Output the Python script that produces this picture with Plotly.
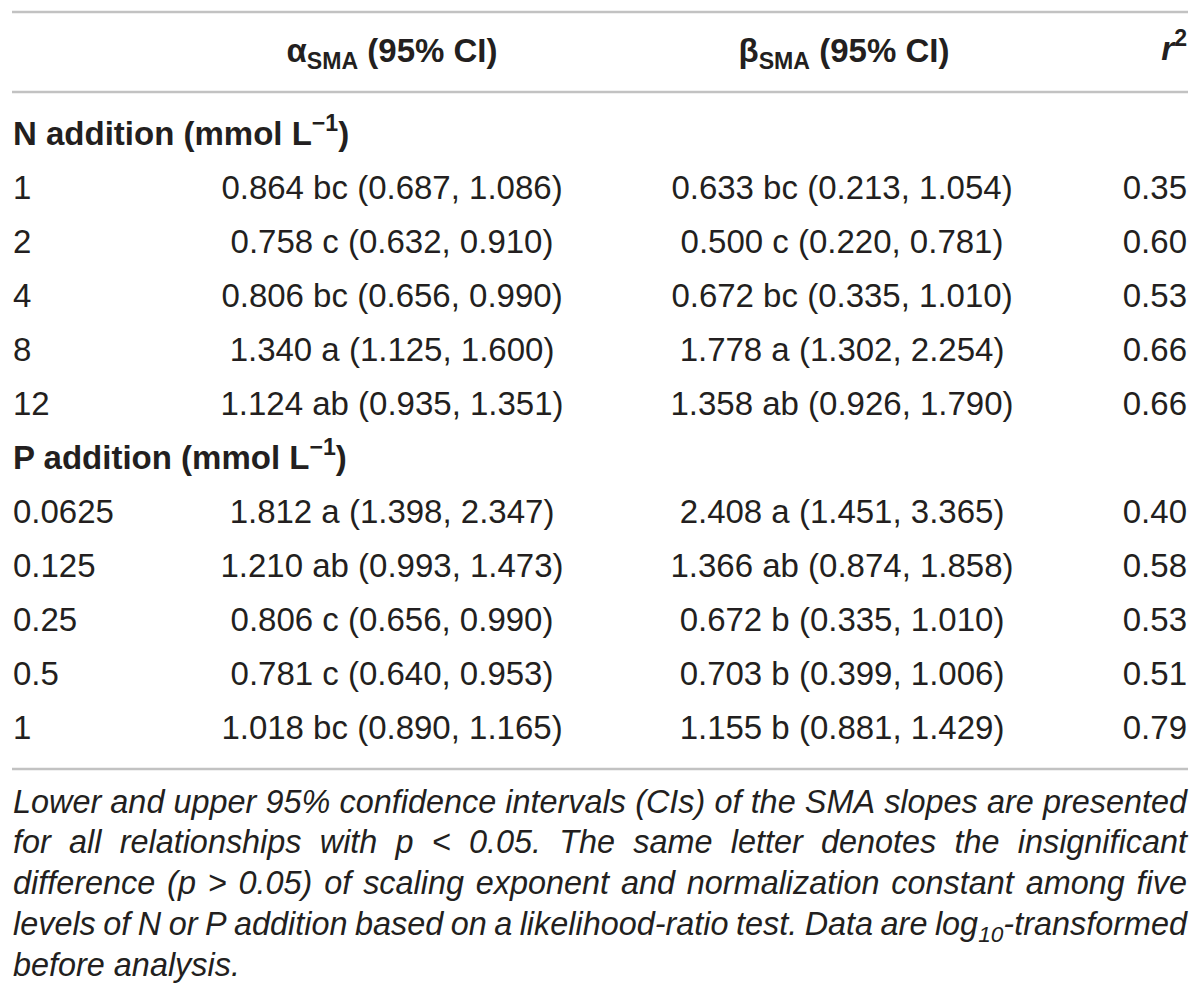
import plotly.graph_objects as go

# table values
levels_n = ["1", "2", "4", "8", "12"]
alpha_n = ["0.864 bc (0.687, 1.086)", "0.758 c (0.632, 0.910)", "0.806 bc (0.656, 0.990)",
           "1.340 a (1.125, 1.600)", "1.124 ab (0.935, 1.351)"]
beta_n = ["0.633 bc (0.213, 1.054)", "0.500 c (0.220, 0.781)", "0.672 bc (0.335, 1.010)",
          "1.778 a (1.302, 2.254)", "1.358 ab (0.926, 1.790)"]
r2_n = ["0.35", "0.60", "0.53", "0.66", "0.66"]

levels_p = ["0.0625", "0.125", "0.25", "0.5", "1"]
alpha_p = ["1.812 a (1.398, 2.347)", "1.210 ab (0.993, 1.473)", "0.806 c (0.656, 0.990)",
           "0.781 c (0.640, 0.953)", "1.018 bc (0.890, 1.165)"]
beta_p = ["2.408 a (1.451, 3.365)", "1.366 ab (0.874, 1.858)", "0.672 b (0.335, 1.010)",
          "0.703 b (0.399, 1.006)", "1.155 b (0.881, 1.429)"]
r2_p = ["0.40", "0.58", "0.53", "0.51", "0.79"]

headers = ["<b>α<sub>SMA</sub> (95% CI)</b>", "<b>β<sub>SMA</sub> (95% CI)</b>", "<b><i>r</i><sup>2</sup></b>"]
sections = ["<b>N addition (mmol L<sup>−1</sup>)</b>", "<b>P addition (mmol L<sup>−1</sup>)</b>"]

footnote = [
    "Lower and upper 95% confidence intervals (CIs) of the SMA slopes are presented",
    "for all relationships with p < 0.05. The same letter denotes the insignificant",
    "difference (p > 0.05) of scaling exponent and normalization constant among five",
    "levels of N or P addition based on a likelihood-ratio test. Data are log<sub>10</sub>-transformed",
    "before analysis.",
]

FONT = "Liberation Sans, Arial, sans-serif"
INK = "#231f20"
RULE = "#c2c2c2"
BODY_SIZE = 33
NOTE_SIZE = 32.4

# layout in page pixels (page body has an 8px margin)
PAD = 8
ROW0, STEP = 137, 54
X_LEFT, X_RIGHT = 13, 1187
X_A, X_B = 392, 842

rows_n = list(range(1, 6))
rows_p = list(range(7, 12))
row_y = lambda ks: [ROW0 + STEP * k for k in ks]

fig = go.Figure()
txt = dict(mode="text", hoverinfo="skip", showlegend=False,
           textfont=dict(family=FONT, size=BODY_SIZE, color=INK))

# section labels and level column
fig.add_trace(go.Scatter(x=[X_LEFT] * 2, y=row_y([0, 6]), text=sections, textposition="middle right", **txt))
fig.add_trace(go.Scatter(x=[X_LEFT] * 10, y=row_y(rows_n + rows_p), text=levels_n + levels_p,
                         textposition="middle right", **txt))
fig.add_trace(go.Scatter(x=[X_A] * 10, y=row_y(rows_n + rows_p), text=alpha_n + alpha_p,
                         textposition="middle center", **txt))
fig.add_trace(go.Scatter(x=[X_B] * 10, y=row_y(rows_n + rows_p), text=beta_n + beta_p,
                         textposition="middle center", **txt))
fig.add_trace(go.Scatter(x=[X_RIGHT] * 10, y=row_y(rows_n + rows_p), text=r2_n + r2_p,
                         textposition="middle left", **txt))

# header
fig.add_trace(go.Scatter(x=[X_A, X_B + 2], y=[54, 54], text=headers[:2], textposition="middle center", **txt))
fig.add_trace(go.Scatter(x=[X_RIGHT], y=[52], text=headers[2:], textposition="middle left", **txt))

# rules
for yy in [12, 92, 769]:
    fig.add_shape(type="line", x0=X_LEFT - 1, x1=X_RIGHT + 1, y0=yy, y1=yy,
                  line=dict(color=RULE, width=2.5))

# footnote, justified word by word with Arial metrics
W = {' ': 278, '%': 889, '(': 333, ')': 333, ',': 278, '-': 333, '.': 278, '<': 584, '>': 584,
     'A': 667, 'B': 667, 'C': 722, 'D': 722, 'E': 667, 'F': 611, 'G': 778, 'H': 722, 'I': 278,
     'J': 500, 'K': 667, 'L': 556, 'M': 833, 'N': 722, 'O': 778, 'P': 667, 'Q': 778, 'R': 722,
     'S': 667, 'T': 611, 'U': 722, 'V': 667, 'W': 944, 'X': 667, 'Y': 667, 'Z': 611,
     'a': 556, 'b': 556, 'c': 500, 'd': 556, 'e': 556, 'f': 278, 'g': 556, 'h': 556, 'i': 222,
     'j': 222, 'k': 500, 'l': 222, 'm': 833, 'n': 556, 'o': 556, 'p': 556, 'q': 556, 'r': 333,
     's': 500, 't': 278, 'u': 556, 'v': 500, 'w': 722, 'x': 500, 'y': 500, 'z': 500}


def word_width(word):
    w = 0.0
    scale = 1.0
    i = 0
    while i < len(word):
        if word.startswith("<sub>", i):
            scale = 0.7
            i += 5
            continue
        if word.startswith("</sub>", i):
            scale = 1.0
            i += 6
            continue
        w += W.get(word[i], 556) * scale
        i += 1
    return w / 1000 * NOTE_SIZE


note_y = [805, 845, 886, 927, 968]
for n, line in enumerate(footnote):
    words = line.split(" ")
    widths = [word_width(w) for w in words]
    if n < len(footnote) - 1:
        gap = (X_RIGHT - X_LEFT - sum(widths)) / (len(words) - 1)
    else:
        gap = W[' '] / 1000 * NOTE_SIZE
    xs = []
    x = X_LEFT
    for w in widths:
        xs.append(x)
        x += w + gap
    fig.add_trace(go.Scatter(x=xs, y=[note_y[n]] * len(words), text=[f"<i>{w}</i>" for w in words],
                             textposition="middle right", mode="text", hoverinfo="skip", showlegend=False,
                             textfont=dict(family=FONT, size=NOTE_SIZE, color=INK)))

fig.update_layout(width=1200 - 2 * PAD, height=1001 - 2 * PAD, margin=dict(l=0, r=0, t=0, b=0),
                  paper_bgcolor="white", plot_bgcolor="white")
fig.update_xaxes(range=[PAD, 1200 - PAD], visible=False, fixedrange=True)
fig.update_yaxes(range=[1001 - PAD, PAD], visible=False, fixedrange=True)

fig.write_html("out.html")
